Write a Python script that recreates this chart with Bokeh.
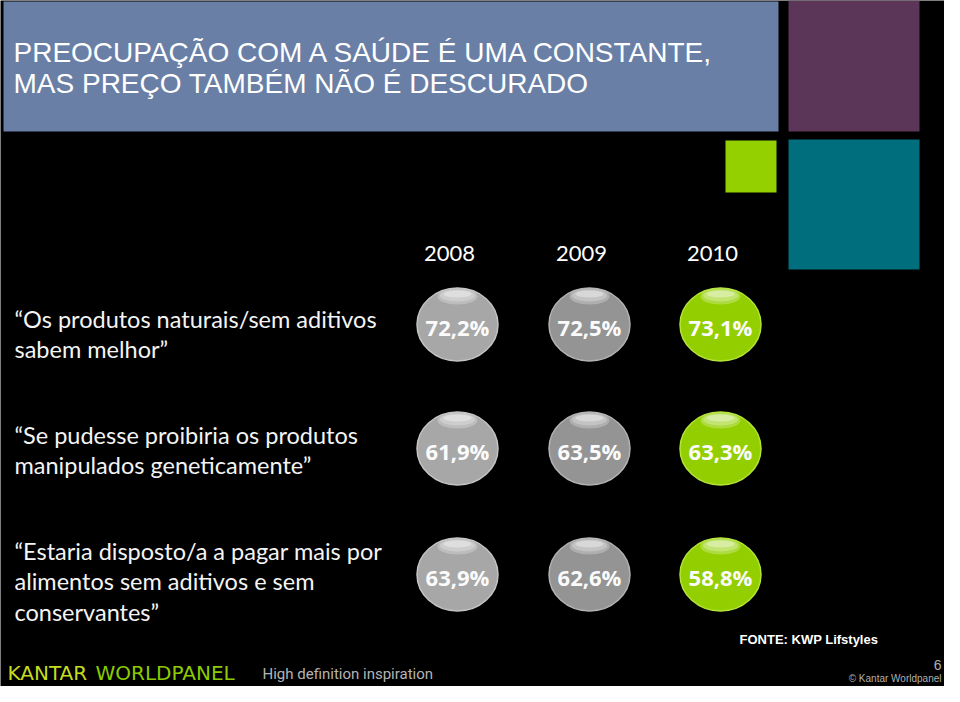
from bokeh.plotting import figure
from bokeh.models import Range1d, ColumnDataSource
from bokeh.core.properties import value
from bokeh.embed import file_html
from bokeh.resources import INLINE

# ---------------- data ----------------
years = ["2008", "2009", "2010"]
statements = [
    ["\u201cOs produtos naturais/sem aditivos", "sabem melhor\u201d"],
    ["\u201cSe pudesse proibiria os produtos", "manipulados geneticamente\u201d"],
    ["\u201cEstaria disposto/a a pagar mais por", "alimentos sem aditivos e sem", "conservantes\u201d"],
]
v2008 = [72.2, 61.9, 63.9]
v2009 = [72.5, 63.5, 62.6]
v2010 = [73.1, 63.3, 58.8]
values_by_year = [v2008, v2009, v2010]
title_lines = ["PREOCUPA\u00c7\u00c3O COM A SA\u00daDE \u00c9 UMA CONSTANTE,",
               "MAS PRE\u00c7O TAMB\u00c9M N\u00c3O \u00c9 DESCURADO"]
source_note = "FONTE: KWP Lifstyles"

# ---------------- layout / style ----------------
col_x = [457, 589, 720]
row_y = [324, 448, 574]
text_y0 = [318, 434, 550]
line_step = 30.5
year_colors = ["#a7a7a7", "#949494", "#93cf00"]
rim_colors = ["#c4c4c4", "#b3b3b3", "#b4e43a"]

p = figure(width=944, height=686, output_backend="svg", toolbar_location=None,
           x_range=Range1d(0, 944), y_range=Range1d(686, 0),
           background_fill_color="black", border_fill_color="black",
           min_border=0, outline_line_color=None)
p.axis.visible = False
p.grid.visible = False

# decorative blocks
p.quad(left=[3], right=[778], top=[1], bottom=[131], fill_color="#6a7fa6", line_color=None)
p.quad(left=[788], right=[919], top=[0], bottom=[131], fill_color="#5b3659", line_color=None)
p.quad(left=[725], right=[776], top=[140], bottom=[192], fill_color="#94d000", line_color=None)
p.quad(left=[788], right=[919], top=[139], bottom=[269], fill_color="#006e7c", line_color=None)

# title
p.text(x=[13, 13], y=[52, 83], text=title_lines, text_color="white",
       text_font=value("Liberation Sans"), text_font_size="28px",
       text_baseline="middle", text_align="left")

# year headers
p.text(x=[cx - 8 for cx in col_x], y=[253] * 3, text=years, text_color="white",
       text_font=value("Lato"), text_font_size="22px",
       text_baseline="middle", text_align="center")

# statements
sx, sy, st = [], [], []
for i, lines in enumerate(statements):
    for k, ln in enumerate(lines):
        sx.append(14)
        sy.append(text_y0[i] + k * line_step)
        st.append(ln)
p.text(x=sx, y=sy, text=st, text_color="#f4f4f4",
       text_font=value("Lato"), text_font_size="23.5px",
       text_baseline="middle", text_align="left")

# bubbles
bx, by, bl, bc, rc = [], [], [], [], []
for j, vals in enumerate(values_by_year):
    for i, v in enumerate(vals):
        bx.append(col_x[j])
        by.append(row_y[i])
        bl.append(f"{v:.1f}".replace(".", ",") + "%")
        bc.append(year_colors[j])
        rc.append(rim_colors[j])
src = ColumnDataSource(dict(x=bx, y=by, label=bl, color=bc, rim=rc,
                            hy1=[y - 28 for y in by], hy2=[y - 29 for y in by],
                            hy3=[y - 30.5 for y in by], ty=[y + 2 for y in by]))
p.ellipse(x="x", y="y", width=81, height=73, fill_color="color",
          line_color="rim", line_width=1.5, source=src)
p.ellipse(x="x", y="hy1", width=40, height=16, fill_color="white", fill_alpha=0.25,
          line_color=None, source=src)
p.ellipse(x="x", y="hy2", width=35, height=12, fill_color="white", fill_alpha=0.25,
          line_color=None, source=src)
p.ellipse(x="x", y="hy3", width=28, height=7, fill_color="white", fill_alpha=0.35,
          line_color=None, source=src)
p.text(x="x", y="ty", text="label", text_color="#fbfbfb",
       text_font=value("Open Sans"), text_font_size="22px", text_font_style="bold",
       text_baseline="middle", text_align="center", source=src)

# source note
p.text(x=[739], y=[639], text=[source_note], text_color="white",
       text_font=value("Liberation Sans"), text_font_size="13px", text_font_style="bold",
       text_baseline="middle", text_align="left")

# footer (kept inside the 686 px canvas)
p.text(x=[7], y=[672], text=["KANTAR"], text_color="#c6dc1e",
       text_font=value("DejaVu Sans"), text_font_size="20px",
       text_baseline="middle", text_align="left")
p.text(x=[95], y=[672], text=["WORLDPANEL"], text_color="#8ccb00",
       text_font=value("DejaVu Sans"), text_font_size="20px",
       text_baseline="middle", text_align="left")
p.text(x=[262], y=[673], text=["High definition inspiration"], text_color="#b4b4b4",
       text_font=value("Roboto"), text_font_size="15px",
       text_baseline="middle", text_align="left")
p.text(x=[941], y=[664], text=["6"], text_color="#b0b0b0",
       text_font=value("Liberation Sans"), text_font_size="14px",
       text_baseline="middle", text_align="right")
p.text(x=[941], y=[678], text=["\u00a9 Kantar Worldpanel"], text_color="#b0b0b0",
       text_font=value("Liberation Sans"), text_font_size="10px",
       text_baseline="middle", text_align="right")

open("out.html", "w").write(file_html(p, INLINE))
